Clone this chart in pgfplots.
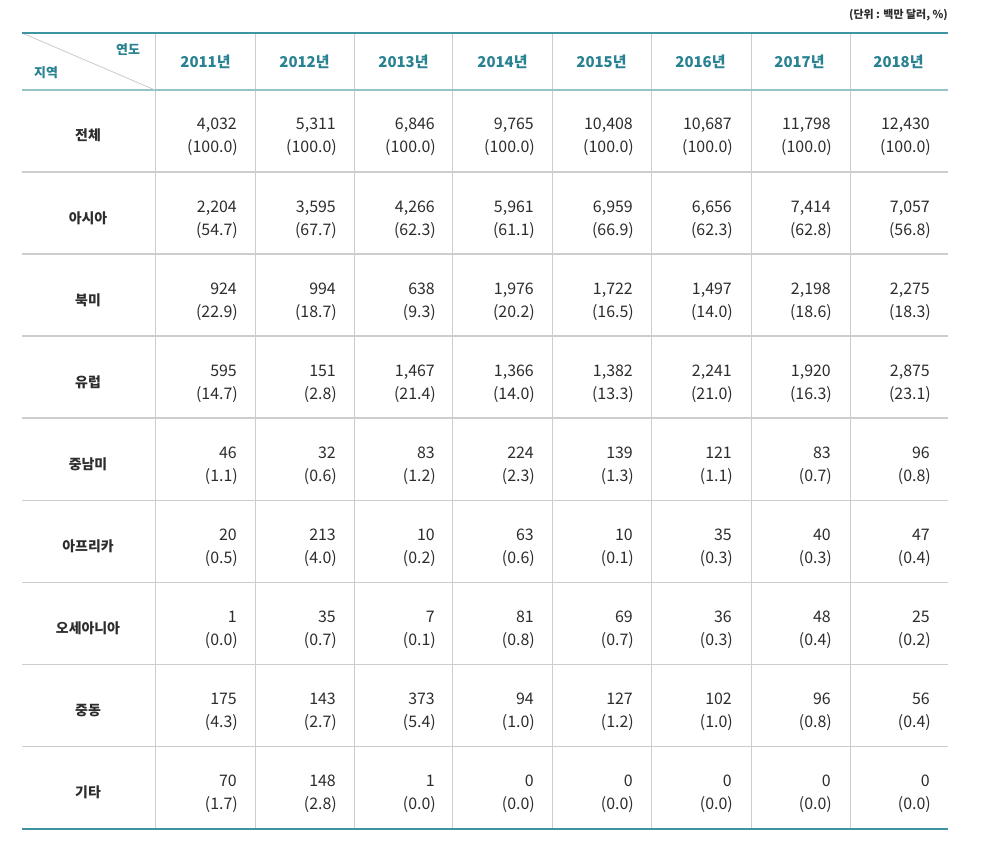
\documentclass[border=0pt]{standalone}
\usepackage{fontspec}
\setmainfont{Noto Sans CJK KR}
\usepackage{pgfplots}
\pgfplotsset{compat=1.18}
\usepackage{pgfplotstable}
\definecolor{tealA}{RGB}{62,148,160}
\definecolor{tealL}{RGB}{150,195,200}
\definecolor{gridc}{RGB}{205,205,205}
\definecolor{txt}{RGB}{45,45,45}
\definecolor{hdr}{RGB}{40,130,145}

% r = row (region), c = column (year), v = value (million USD), p = share (%)
\pgfplotstableread{
r c v p
1 1 4032 100.0
1 2 5311 100.0
1 3 6846 100.0
1 4 9765 100.0
1 5 10408 100.0
1 6 10687 100.0
1 7 11798 100.0
1 8 12430 100.0
2 1 2204 54.7
2 2 3595 67.7
2 3 4266 62.3
2 4 5961 61.1
2 5 6959 66.9
2 6 6656 62.3
2 7 7414 62.8
2 8 7057 56.8
3 1 924 22.9
3 2 994 18.7
3 3 638 9.3
3 4 1976 20.2
3 5 1722 16.5
3 6 1497 14.0
3 7 2198 18.6
3 8 2275 18.3
4 1 595 14.7
4 2 151 2.8
4 3 1467 21.4
4 4 1366 14.0
4 5 1382 13.3
4 6 2241 21.0
4 7 1920 16.3
4 8 2875 23.1
5 1 46 1.1
5 2 32 0.6
5 3 83 1.2
5 4 224 2.3
5 5 139 1.3
5 6 121 1.1
5 7 83 0.7
5 8 96 0.8
6 1 20 0.5
6 2 213 4.0
6 3 10 0.2
6 4 63 0.6
6 5 10 0.1
6 6 35 0.3
6 7 40 0.3
6 8 47 0.4
7 1 1 0.0
7 2 35 0.7
7 3 7 0.1
7 4 81 0.8
7 5 69 0.7
7 6 36 0.3
7 7 48 0.4
7 8 25 0.2
8 1 175 4.3
8 2 143 2.7
8 3 373 5.4
8 4 94 1.0
8 5 127 1.2
8 6 102 1.0
8 7 96 0.8
8 8 56 0.4
9 1 70 1.7
9 2 148 2.8
9 3 1 0.0
9 4 0 0.0
9 5 0 0.0
9 6 0 0.0
9 7 0 0.0
9 8 0 0.0
}\datatab

\begin{document}
\begin{tikzpicture}
\begin{axis}[
  scale only axis, width=983bp, height=844bp,
  xmin=0, xmax=983, ymin=0, ymax=844, y dir=reverse,
  hide axis, clip=false,
  /pgf/number format/assume math mode=true,
]
\fill[white] (axis cs:0,0) rectangle (axis cs:983,844);
% vertical separators
\pgfplotsinvokeforeach{155,255,354,452,552,651,751,850}{
  \draw[gridc, line width=1pt] (axis cs:#1,33) -- (axis cs:#1,829);
}
% row separators
\pgfplotsinvokeforeach{172,254,336,418,500.5,582.5,664.5,746.5}{
  \draw[gridc, line width=1.2pt] (axis cs:22,#1) -- (axis cs:948,#1);
}
\draw[tealL, line width=1.2pt] (axis cs:22,90) -- (axis cs:948,90);
\draw[gridc, line width=0.8pt] (axis cs:22,33) -- (axis cs:155,90);
\draw[tealA, line width=2.6pt] (axis cs:22,33) -- (axis cs:948,33);
\draw[tealA, line width=2.6pt] (axis cs:22,829) -- (axis cs:948,829);

% values
\addplot[only marks, mark=none, point meta=explicit,
  nodes near coords={\pgfmathprintnumber[fixed,precision=0,1000 sep={,}]{\pgfplotspointmeta}},
  nodes near coords align={anchor=base east},
  every node near coord/.append style={anchor=base east, inner sep=0pt, text=txt,
    font=\fontsize{16}{16}\selectfont}]
  table[x expr=138+99*\thisrow{c}, y expr=130+82.11*(\thisrow{r}-1), meta=v]{\datatab};
% shares
\addplot[only marks, mark=none, point meta=explicit,
  nodes near coords={(\pgfmathprintnumber[fixed,fixed zerofill,precision=1]{\pgfplotspointmeta})},
  nodes near coords align={anchor=base east},
  every node near coord/.append style={anchor=base east, inner sep=0pt, text=txt,
    font=\fontsize{16}{16}\selectfont}]
  table[x expr=139+99*\thisrow{c}, y expr=153+82.11*(\thisrow{r}-1), meta=p]{\datatab};

% region names
\begin{scope}[every node/.style={anchor=base, inner sep=0pt, text=txt, font=\bfseries\fontsize{14}{14}\selectfont}]
\node at (axis cs:88,141.0) {전체};
\node at (axis cs:88,223.1) {아시아};
\node at (axis cs:88,305.2) {북미};
\node at (axis cs:88,387.3) {유럽};
\node at (axis cs:88,469.4) {중남미};
\node at (axis cs:88,551.6) {아프리카};
\node at (axis cs:88,633.7) {오세아니아};
\node at (axis cs:88,715.8) {중동};
\node at (axis cs:88,797.9) {기타};
\end{scope}
% header
\begin{scope}[every node/.style={anchor=base, inner sep=0pt, text=hdr, font=\bfseries\fontsize{15}{15}\selectfont}]
\node at (axis cs:205.5,68) {2011년};
\node at (axis cs:304.5,68) {2012년};
\node at (axis cs:403.5,68) {2013년};
\node at (axis cs:502.5,68) {2014년};
\node at (axis cs:601.5,68) {2015년};
\node at (axis cs:700.5,68) {2016년};
\node at (axis cs:799.5,68) {2017년};
\node at (axis cs:898.5,68) {2018년};
\node[font=\bfseries\fontsize{13}{13}\selectfont] at (axis cs:128,55) {연도};
\node[font=\bfseries\fontsize{13}{13}\selectfont] at (axis cs:46,78) {지역};
\end{scope}
\node[anchor=base east, inner sep=0pt, text=txt, font=\bfseries\fontsize{11}{11}\selectfont] at (axis cs:948,19) {(단위 : 백만 달러, \%)};
\end{axis}
\end{tikzpicture}
\end{document}
